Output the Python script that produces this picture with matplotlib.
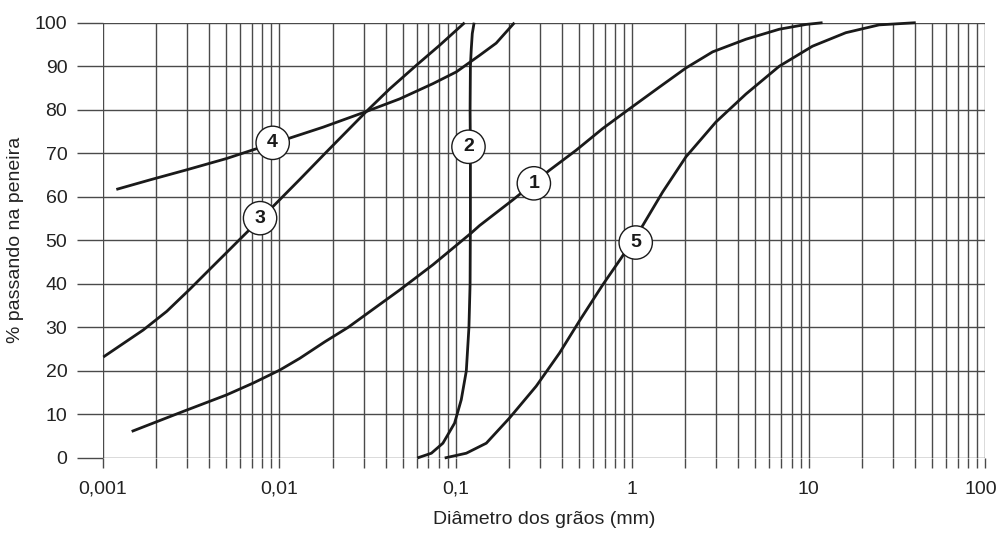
import matplotlib
matplotlib.use("Agg")
import matplotlib.pyplot as plt
from matplotlib.ticker import FixedLocator, LogLocator, NullFormatter, FuncFormatter
from matplotlib.transforms import ScaledTranslation

# ---- data (grain size in mm, % passing) ----
c1_x = [0.001454, 0.00285, 0.00502, 0.00709, 0.01005, 0.01305, 0.0181, 0.0245, 0.0386, 0.0481,
        0.0742, 0.1224, 0.1364, 0.2106, 0.3396, 0.481, 0.681, 0.964, 1.425, 2.018,
        2.857, 4.41, 6.82, 9.66, 12.0]
c1_y = [6.1, 10.7, 14.5, 17.2, 20.2, 22.9, 26.7, 30.0, 35.8, 38.6,
        44.4, 51.7, 53.4, 59.3, 66.1, 70.7, 75.7, 80.2, 85.2, 89.6,
        93.3, 96.2, 98.5, 99.6, 100]

c2_x = [0.0605, 0.0727, 0.0845, 0.0984, 0.1074, 0.1147, 0.1187, 0.1205, 0.1210, 0.1210,
        0.1205, 0.1210, 0.1224, 0.1240, 0.1270]
c2_y = [0, 1.1, 3.4, 8.0, 13.4, 20, 30, 40, 55, 70,
        80, 90, 94, 97.5, 100]

c3_x = [0.001004, 0.00169, 0.00230, 0.00311, 0.00404, 0.00502, 0.00623, 0.00921, 0.01305,
        0.01848, 0.0311, 0.0422, 0.0597, 0.0809, 0.1122]
c3_y = [23.2, 29.4, 33.7, 38.8, 43.4, 47.2, 51.0, 57.8, 64.0,
        70.3, 79.6, 84.8, 90.2, 94.8, 100]

c4_x = [0.00119, 0.00185, 0.00298, 0.00502, 0.00709, 0.01146, 0.01769, 0.0311, 0.0481,
        0.0742, 0.1007, 0.1364, 0.1694, 0.215]
c4_y = [61.7, 63.9, 66.2, 68.8, 70.8, 73.5, 76.0, 79.6, 82.5,
        86.0, 88.7, 92.5, 95.3, 100]

c5_x = [0.0865, 0.1147, 0.1489, 0.2017, 0.2856, 0.3870, 0.5023, 0.681, 0.865, 1.147, 1.488,
        2.018, 2.985, 4.41, 6.82, 10.52, 16.25, 25.1, 40.5]
c5_y = [0, 1.1, 3.4, 9.2, 16.5, 24.1, 31.5, 39.8, 45.9, 53.4, 61.1,
        69.2, 77.2, 83.6, 90.0, 94.6, 97.7, 99.5, 100]

curves = [(c1_x, c1_y), (c2_x, c2_y), (c3_x, c3_y), (c4_x, c4_y), (c5_x, c5_y)]

label_names = ["1", "2", "3", "4", "5"]
label_x = [0.277, 0.118, 0.00777, 0.00916, 1.047]
label_y = [63.1, 71.5, 55.1, 72.4, 49.5]

x_ticks = [0.001, 0.01, 0.1, 1, 10, 100]
x_tick_labels = ["0,001", "0,01", "0,1", "1", "10", "100"]
y_ticks = [0, 10, 20, 30, 40, 50, 60, 70, 80, 90, 100]

plt.rcParams['font.family'] = ['Liberation Sans', 'DejaVu Sans']

fig = plt.figure(figsize=(9.98, 5.38), dpi=100)
ax = fig.add_axes([103/998, 1 - 458/538, (985 - 103)/998, (458 - 22.7)/538])

ax.set_xscale('log')
ax.set_xlim(0.001, 100)
ax.set_ylim(0, 100)

for s in ax.spines.values():
    s.set_visible(False)

gcol = '#4a4a4a'
ax.xaxis.set_major_locator(FixedLocator(x_ticks))
ax.xaxis.set_major_formatter(FuncFormatter(
    lambda v, p: x_tick_labels[x_ticks.index(v)] if v in x_ticks else ""))
ax.xaxis.set_minor_locator(LogLocator(base=10, subs=range(2, 10), numticks=100))
ax.xaxis.set_minor_formatter(NullFormatter())
ax.yaxis.set_major_locator(FixedLocator(y_ticks))

ax.grid(True, which='major', axis='both', color=gcol, lw=1.0)
ax.grid(True, which='minor', axis='x', color=gcol, lw=1.0)

ax.tick_params(axis='x', which='both', length=7.2, width=1.0, color=gcol, pad=9,
               labelsize=14, labelcolor='#222222', direction='out')
ax.tick_params(axis='y', which='major', length=18.7, width=1.0, color=gcol, pad=7,
               labelsize=14, labelcolor='#222222', direction='out')
ax.tick_params(axis='y', which='minor', length=0)

for xs, ys in curves:
    ax.plot(xs, ys, color='#1a1a1a', lw=2.0, solid_capstyle='butt',
            solid_joinstyle='round', clip_on=False, zorder=3)

for name, lx, ly in zip(label_names, label_x, label_y):
    ax.text(lx, ly, name, ha='center', va='center', fontsize=14, fontweight='bold',
            color='#1a1a1a', zorder=5,
            bbox=dict(boxstyle='circle,pad=0.42', fc='white', ec='#1a1a1a', lw=1.0))

ax.set_xlabel('Diâmetro dos grãos (mm)', fontsize=14, labelpad=10, color='#222222')
ax.set_ylabel('% passando na peneira', fontsize=14, labelpad=8, color='#222222')

# keep the last x tick label ("100") inside the canvas, as in the reference
fig.canvas.draw()
last = ax.get_xticklabels()[-1]
last.set_transform(last.get_transform() + ScaledTranslation(-4/100, 0, fig.dpi_scale_trans))

fig.savefig('out.png', dpi=100)
